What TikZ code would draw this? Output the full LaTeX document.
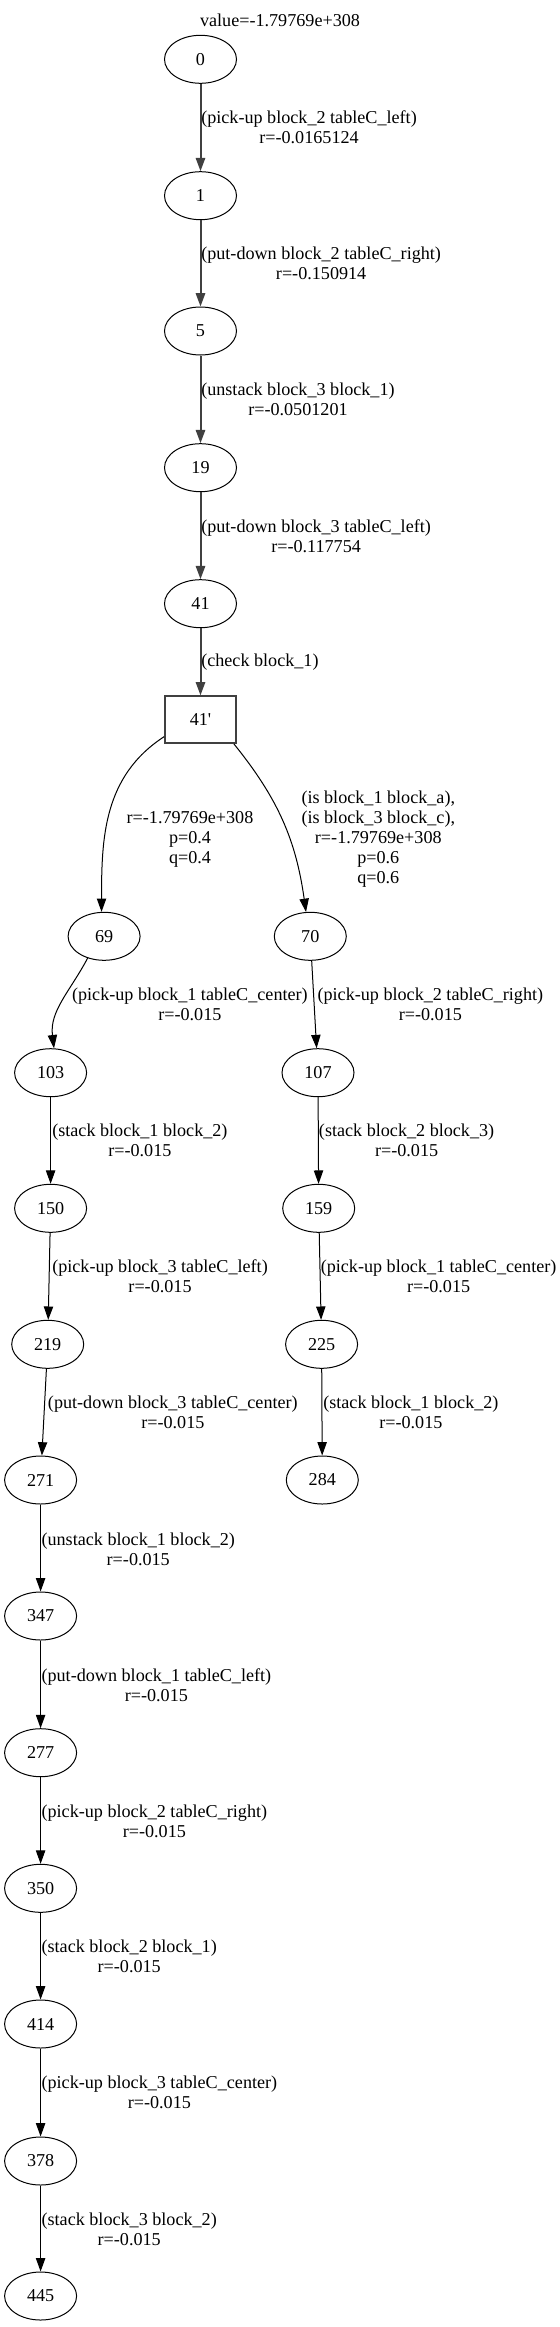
\documentclass[tikz,border=0pt]{standalone}
\usepackage{fontspec}
\setmainfont{Liberation Serif}
\usetikzlibrary{shapes.geometric,arrows.meta}
\definecolor{edgegray}{HTML}{404040}
\newcommand{\gvfont}{\fontsize{13.6}{15}\selectfont}
\tikzset{
  st/.style={draw=black, line width=0.75pt, ellipse, minimum width=54pt, minimum height=36pt, inner sep=0pt, font=\gvfont},
  chk/.style={draw=edgegray, line width=1.5pt, rectangle, minimum width=53pt, minimum height=35pt, inner sep=0pt, font=\gvfont},
  lbl/.style={inner sep=0pt, align=center, font=\gvfont},
  gedge/.style={draw=edgegray, line width=1.5pt, -{Triangle[length=10pt,width=7pt]}},
  bedge/.style={draw=black, line width=0.75pt, -{Triangle[length=10pt,width=7pt]}}
}
\begin{document}
\begin{tikzpicture}[x=0.75pt,y=-0.75pt]
\useasboundingbox (0,0) rectangle (560,2327);
\node[lbl] (title) at (280,20.7) {value=-1.79769e+308};
% nodes
\node[st] (n0) at (200.5,59.3) {0};
\node[st] (n1) at (200.5,195.7) {1};
\node[st] (n5) at (200.5,331) {5};
\node[st] (n19) at (200.5,467.7) {19};
\node[st] (n41) at (200.5,603.7) {41};
\node[chk] (n41p) at (200.5,719.7) {41\textquotesingle};
\node[st] (n69) at (104.1,936.3) {69};
\node[st] (n70) at (310.3,936.3) {70};
\node[st] (n103) at (50.6,1072.7) {103};
\node[st] (n107) at (318,1072.7) {107};
\node[st] (n150) at (50.6,1208.3) {150};
\node[st] (n159) at (318.7,1208.3) {159};
\node[st] (n219) at (47.7,1344.3) {219};
\node[st] (n225) at (321.6,1344.3) {225};
\node[st] (n271) at (40.6,1480) {271};
\node[st] (n284) at (322.3,1480) {284};
\node[st] (n347) at (40.6,1616) {347};
\node[st] (n277) at (40.6,1752.7) {277};
\node[st] (n350) at (40.6,1888.3) {350};
\node[st] (n414) at (40.6,2024) {414};
\node[st] (n378) at (40.6,2161) {378};
\node[st] (n445) at (40.6,2296) {445};
% edges
\draw[gedge] (n0) -- (n1);
\draw[gedge] (n1) -- (n5);
\draw[gedge] (n5) -- (n19);
\draw[gedge] (n19) -- (n41);
\draw[gedge] (n41) -- (n41p);
\draw[bedge] (n41p.205) to[out=-147,in=90] (n69.96);
\draw[bedge] (n41p.-36) to[out=-51,in=98] (n70.100);
\draw[bedge] (n69.-127) to[out=-118,in=97] (n103.82);
\draw[bedge] (n70) -- (n107);
\draw[bedge] (n103) -- (n150);
\draw[bedge] (n107) -- (n159);
\draw[bedge] (n150) -- (n219);
\draw[bedge] (n159) -- (n225);
\draw[bedge] (n219) -- (n271);
\draw[bedge] (n225) -- (n284);
\draw[bedge] (n271) -- (n347);
\draw[bedge] (n347) -- (n277);
\draw[bedge] (n277) -- (n350);
\draw[bedge] (n350) -- (n414);
\draw[bedge] (n414) -- (n378);
\draw[bedge] (n378) -- (n445);
% edge labels
\node[lbl, anchor=west] (l1) at (201,127.3) {(pick-up block\_2 tableC\_left)\\r=-0.0165124};
\node[lbl, anchor=west] (l2) at (201,263.7) {(put-down block\_2 tableC\_right)\\r=-0.150914};
\node[lbl, anchor=west] (l3) at (201,399.3) {(unstack block\_3 block\_1)\\r=-0.0501201};
\node[lbl, anchor=west] (l4) at (201,535.8) {(put-down block\_3 tableC\_left)\\r=-0.117754};
\node[lbl, anchor=west] (l5) at (201,661.7) {(check block\_1)};
\node[lbl] (l6) at (190,839) {r=-1.79769e+308\\p=0.4\\q=0.4};
\node[lbl] (l7) at (378.3,839) {(is block\_1 block\_a),\\(is block\_3 block\_c),\\r=-1.79769e+308\\p=0.6\\q=0.6};
\node[lbl, anchor=west] (l8) at (71.8,1004.3) {(pick-up block\_1 tableC\_center)\\r=-0.015};
\node[lbl, anchor=west] (l9) at (317.3,1004.3) {(pick-up block\_2 tableC\_right)\\r=-0.015};
\node[lbl, anchor=west] (l10) at (52,1140.7) {(stack block\_1 block\_2)\\r=-0.015};
\node[lbl, anchor=west] (l11) at (318.7,1140.7) {(stack block\_2 block\_3)\\r=-0.015};
\node[lbl, anchor=west] (l12) at (52,1276.7) {(pick-up block\_3 tableC\_left)\\r=-0.015};
\node[lbl, anchor=west] (l13) at (320.5,1276.7) {(pick-up block\_1 tableC\_center)\\r=-0.015};
\node[lbl, anchor=west] (l14) at (47.7,1412.3) {(put-down block\_3 tableC\_center)\\r=-0.015};
\node[lbl, anchor=west] (l15) at (323,1412.3) {(stack block\_1 block\_2)\\r=-0.015};
\node[lbl, anchor=west] (l16) at (41.3,1549) {(unstack block\_1 block\_2)\\r=-0.015};
\node[lbl, anchor=west] (l17) at (41.3,1685) {(put-down block\_1 tableC\_left)\\r=-0.015};
\node[lbl, anchor=west] (l18) at (41.3,1821) {(pick-up block\_2 tableC\_right)\\r=-0.015};
\node[lbl, anchor=west] (l19) at (41.3,1956.7) {(stack block\_2 block\_1)\\r=-0.015};
\node[lbl, anchor=west] (l20) at (41.3,2092.7) {(pick-up block\_3 tableC\_center)\\r=-0.015};
\node[lbl, anchor=west] (l21) at (41.3,2229) {(stack block\_3 block\_2)\\r=-0.015};
\end{tikzpicture}
\end{document}
